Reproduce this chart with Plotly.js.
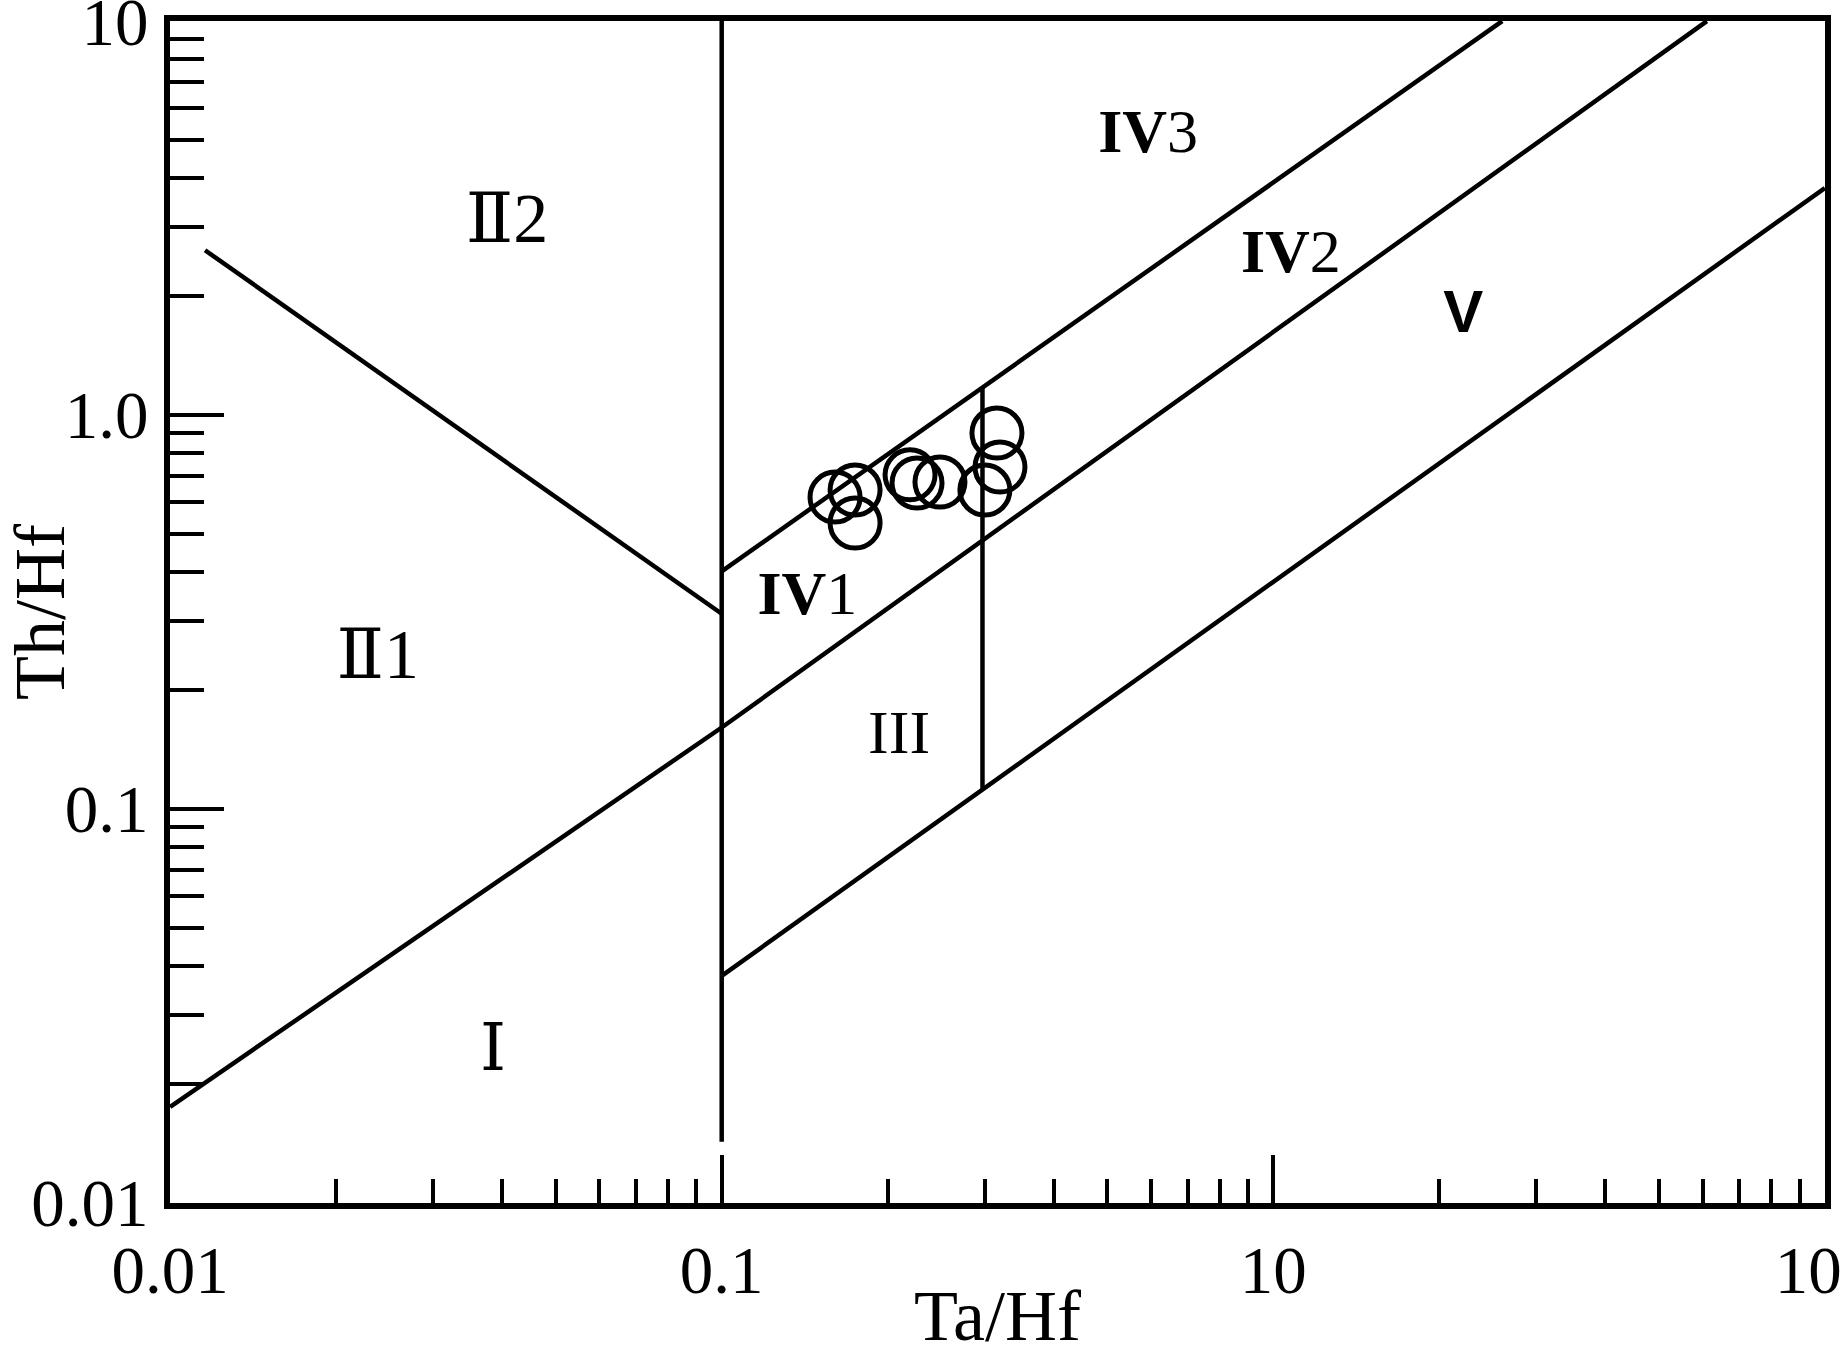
<!DOCTYPE html>
<html>
<head>
<meta charset="utf-8">
<script src="https://cdn.plot.ly/plotly-3.0.1.min.js"></script>
<style>html,body{margin:0;padding:0;background:#fff;}#chart{width:1840px;height:1356px;}</style>
</head>
<body>
<div id="chart"></div>
<script>
// ---- Data ----
// Sample points (Ta/Hf, Th/Hf)
const sampleTaHf = [0.1605, 0.1745, 0.1745, 0.2195, 0.226, 0.2487, 0.300, 0.3155, 0.3195];
const sampleThHf = [0.619, 0.645, 0.532, 0.705, 0.672, 0.676, 0.645, 0.900, 0.738];

// Boundary lines
const bII_x = [0.01157, 0.1];      const bII_y = [2.62, 0.313];     // II1 / II2
const bMid_x = [0.01, 0.1, 6.11];  const bMid_y = [0.01754, 0.161, 10]; // I / II1, III / IV2
const bUp_x = [0.1, 2.60];         const bUp_y = [0.401, 10];       // IV1 / IV3
const bLow_x = [0.1, 10];          const bLow_y = [0.0377, 3.77];   // III / V
const bV01_x = [0.1, 0.1];         const bV01_y = [10, 0.0143];     // Ta/Hf = 0.1
const bV03_x = [0.297, 0.297];     const bV03_y = [1.175, 0.1125];  // Ta/Hf ~ 0.3

// Region labels
const labelText = ['Ⅱ2', 'Ⅱ1', 'Ⅰ', '<b>IV</b>1', 'III', '<b>IV</b>3', '<b>IV</b>2', '<b>V</b>'];
const labelX = [0.0408, 0.0238, 0.0385, 0.143, 0.2097, 0.593, 1.076, 2.21];
const labelY = [3.04, 0.238, 0.0240, 0.343, 0.152, 5.08, 2.53, 1.77];
const labelSize = [70, 70, 66, 62, 62, 62, 62, 60];
const serif = 'Liberation Serif, DejaVu Serif, serif';
const sans = 'Liberation Sans, Arial, sans-serif';
const labelFamily = [serif, serif, serif, serif, serif, serif, serif, sans];

// Axis ticks
const majorTicks = [0.01, 0.1, 1, 10];
const xTickText = ['0.01', '0.1', '10', '10\u00a0\u00a0'];
const yTickText = ['0.01', '0.1', '1.0', '10'];
const minorTicks = [0.02,0.03,0.04,0.05,0.06,0.07,0.08,0.09,
                    0.2,0.3,0.4,0.5,0.6,0.7,0.8,0.9,
                    2,3,4,5,6,7,8,9];

// ---- Traces ----
const lineStyle = {color: '#000', width: 4.5};
function seg(x, y) {
  return {x: x, y: y, mode: 'lines', line: lineStyle, hoverinfo: 'skip', showlegend: false};
}
const traces = [
  seg(bII_x, bII_y),
  seg(bMid_x, bMid_y),
  seg(bUp_x, bUp_y),
  seg(bLow_x, bLow_y),
  seg(bV01_x, bV01_y),
  seg(bV03_x, bV03_y),
  {
    x: sampleTaHf, y: sampleThHf, mode: 'markers', showlegend: false,
    marker: {symbol: 'circle-open', size: 50, color: '#000', line: {width: 5, color: '#000'}}
  },
  {
    x: labelX, y: labelY, text: labelText, mode: 'text', showlegend: false,
    textposition: 'middle center',
    textfont: {family: labelFamily, size: labelSize, color: '#000'}
  }
];

const tickFont = {family: serif, size: 67, color: '#000'};
const titleFont = {family: serif, size: 72, color: '#000'};

const layout = {
  width: 1840, height: 1356,
  margin: {l: 170, r: 15, t: 21, b: 153, pad: 0},
  paper_bgcolor: '#fff', plot_bgcolor: '#fff',
  showlegend: false,
  xaxis: {
    type: 'log', range: [-2.0002, 1.0002],
    tickmode: 'array', tickvals: majorTicks, ticktext: xTickText,
    ticks: 'inside', ticklen: 48, tickwidth: 4, tickcolor: '#000',
    minor: {tickmode: 'array', tickvals: minorTicks, ticks: 'inside', ticklen: 24, tickwidth: 4, tickcolor: '#000', showgrid: false},
    showline: true, linewidth: 6, linecolor: '#000', mirror: true,
    showgrid: false, zeroline: false,
    tickfont: tickFont, ticklabelstandoff: 4, ticklabeloverflow: 'allow',
    title: {text: 'Ta/Hf', font: titleFont, standoff: 40}
  },
  yaxis: {
    type: 'log', range: [-2.0002, 1.0002],
    tickmode: 'array', tickvals: majorTicks, ticktext: yTickText,
    ticks: 'inside', ticklen: 54, tickwidth: 4, tickcolor: '#000',
    minor: {tickmode: 'array', tickvals: minorTicks, ticks: 'inside', ticklen: 34, tickwidth: 4, tickcolor: '#000', showgrid: false},
    showline: true, linewidth: 6, linecolor: '#000', mirror: true,
    showgrid: false, zeroline: false,
    tickfont: tickFont, ticklabelstandoff: 2, ticklabeloverflow: 'allow',
    title: {text: 'Th/Hf', font: titleFont, standoff: 0}
  }
};

Plotly.newPlot('chart', traces, layout, {displayModeBar: false, staticPlot: true});
</script>
</body>
</html>
